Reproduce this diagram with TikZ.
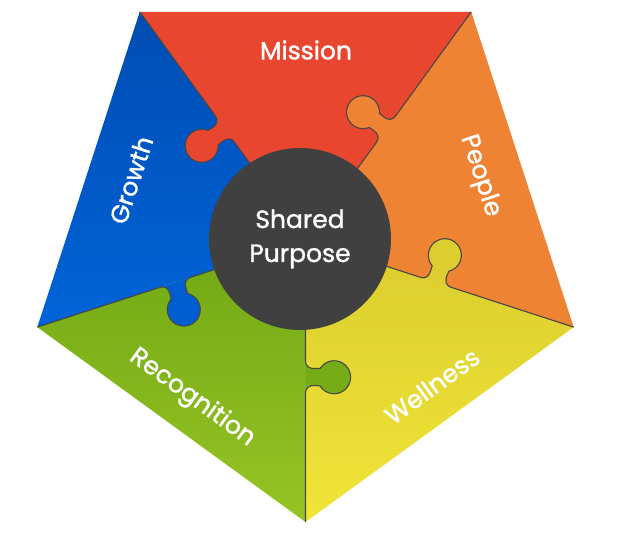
\documentclass[tikz,border=0pt]{standalone}
\usepackage{fontspec}
\setmainfont{Poppins}
\newfontfamily\lblfont[FakeBold=1.3]{Poppins}
\definecolor{cred}{RGB}{233,70,48}
\definecolor{corange}{RGB}{239,131,52}
\definecolor{cyelT}{RGB}{218,205,45}
\definecolor{cyelB}{RGB}{241,229,56}
\definecolor{cgrnT}{RGB}{112,168,20}
\definecolor{cgrnB}{RGB}{150,196,36}
\definecolor{cbluT}{RGB}{0,76,178}
\definecolor{cbluB}{RGB}{0,100,216}
\definecolor{ctabY}{RGB}{219,206,46}
\definecolor{ctabG}{RGB}{118,173,22}
\definecolor{ctabB}{RGB}{0,94,208}
\definecolor{chub}{RGB}{64,64,64}
\begin{document}
\begin{tikzpicture}[x=1pt,y=1pt,
  lbl/.style={text=white, font=\lblfont\fontsize{25}{30}\selectfont},
  seam/.style={draw=black!72, line width=1.1pt, line join=round},
  hubnode/.style={circle, fill=chub, minimum size=182pt, inner sep=0pt},
]
\useasboundingbox (-305.5,-300) rectangle (312.5,240);
\coordinate (O) at (0,0);
\coordinate (vTL) at (126:282);
\coordinate (vTR) at (54:282);
\coordinate (vR) at (-18:282);
\coordinate (vB) at (-90:282);
\coordinate (vL) at (198:282);
% pieces
\fill[cred] (O) -- (vTL) -- (vTR) -- cycle;
\fill[corange] (O) -- (vTR) -- (vR) -- cycle;
\shade[top color=cyelT, bottom color=cyelB] (O) -- (vR) -- (vB) -- cycle;
\shade[top color=cgrnT, bottom color=cgrnB] (O) -- (vB) -- (vL) -- cycle;
\shade[top color=cbluT, bottom color=cbluB] (O) -- (vL) -- (vTL) -- cycle;
% tabs and seams
\foreach \ang/\col in {126/cred, 54/corange, -18/ctabY, -90/ctabG, 198/ctabB} {
  \begin{scope}[rotate=\ang]
    \fill[\col] (120,0) .. controls (127,0) and (128.5,4) .. (128.5,9) -- (128.5,14.6)
      arc[start angle=238, end angle=-58, radius=16.5] -- (145.5,9)
      .. controls (145.5,4) and (147,0) .. (154,0) -- cycle;
    \draw[seam] (0,0) -- (120,0) .. controls (127,0) and (128.5,4) .. (128.5,9) -- (128.5,14.6)
      arc[start angle=238, end angle=-58, radius=16.5] -- (145.5,9)
      .. controls (145.5,4) and (147,0) .. (154,0) -- (282,0);
  \end{scope}
}
% hub
\node[hubnode] (hub) at (-5.5,1) {};
\node[lbl, align=center, font=\lblfont\fontsize{25}{34}\selectfont] (sp) at (hub) {Shared\\Purpose};
% labels
\node[lbl] (mission) at (0.5,190) {Mission};
\node[lbl, rotate=-72] (people) at (174.5,64) {People};
\node[lbl, rotate=36] (wellness) at (126.5,-146) {Wellness};
\node[lbl, rotate=-36] (recog) at (-113.5,-158) {Recognition};
\node[lbl, rotate=72] (growth) at (-174.5,60) {Growth};
\end{tikzpicture}
\end{document}
